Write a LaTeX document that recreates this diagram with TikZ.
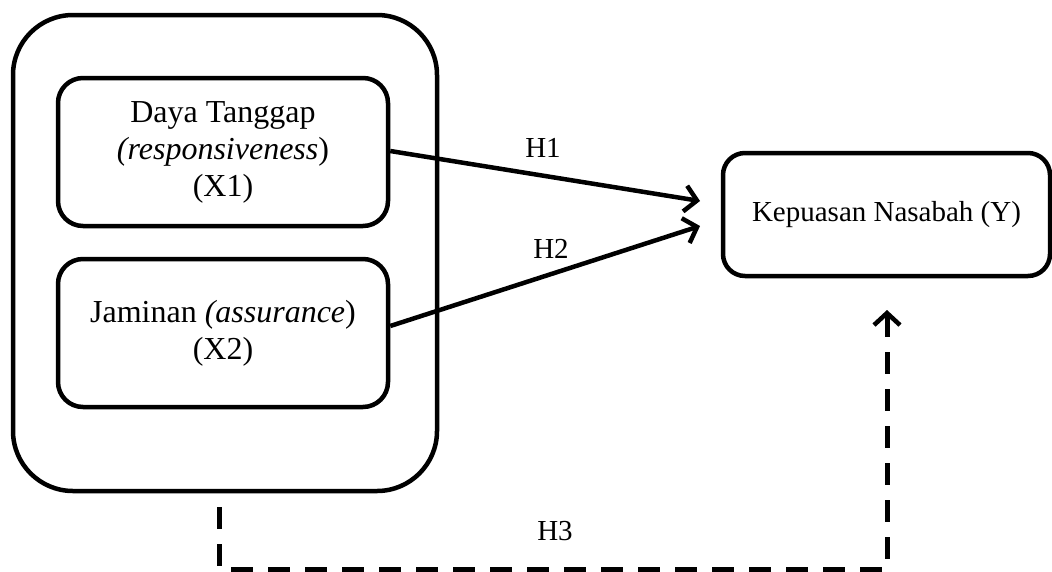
\documentclass[tikz,border=0pt]{standalone}
\usepackage{fontspec}
\setmainfont{Liberation Serif}
\usetikzlibrary{arrows.meta}
\begin{document}
\begin{tikzpicture}[x=1pt,y=-1pt,
  box/.style={draw,line width=4.5pt,rounded corners=#1,inner sep=0pt,align=center},
  txt/.style={font=\fontsize{32}{37}\selectfont},
  link/.style={line width=4.5pt,-{Straight Barb[length=12pt,width=26pt,line width=4.5pt]}},
  dlink/.style={line width=5pt,dash pattern=on 22pt off 15pt,{Straight Barb[length=12pt,width=26pt,line width=4.5pt]}-},
  lab/.style={font=\fontsize{29}{35}\selectfont,inner sep=0pt}]
\useasboundingbox (0,0) rectangle (1052,571);
\node[box=60,minimum width=424pt,minimum height=476pt] (outer) at (225,253) {};
\node[box=25,txt,minimum width=330pt,minimum height=148pt] (b1) at (223,152)
  {Daya Tanggap\\\textit{(responsiveness})\\(X1)};
\node[box=25,txt,minimum width=330pt,minimum height=148pt] (b2) at (223,333)
  {Jaminan \textit{(assurance})\\(X2)};
\node[box=22,font=\fontsize{29}{35}\selectfont,minimum width=327pt,minimum height=123pt] (y) at (886.5,214.5)
  {Kepuasan Nasabah (Y)};
\coordinate (t1) at (700,201);
\coordinate (t2) at (700,226);
\draw[link] ([yshift=1pt]b1.east) -- (t1);
\draw[link] ([yshift=7pt]b2.east) -- (t2);
\node[lab] (h1) at (543,148) {H1};
\node[lab] (h2) at (551,249) {H2};
\node[lab] (h3) at (555,531) {H3};
\coordinate (c1) at (219,569);
\coordinate (c2) at (887,569);
\coordinate (t3) at (887,310);
\draw[dlink] (t3) -- (c2) -- (c1) -- ([xshift=-6pt]outer.south);
\end{tikzpicture}
\end{document}
